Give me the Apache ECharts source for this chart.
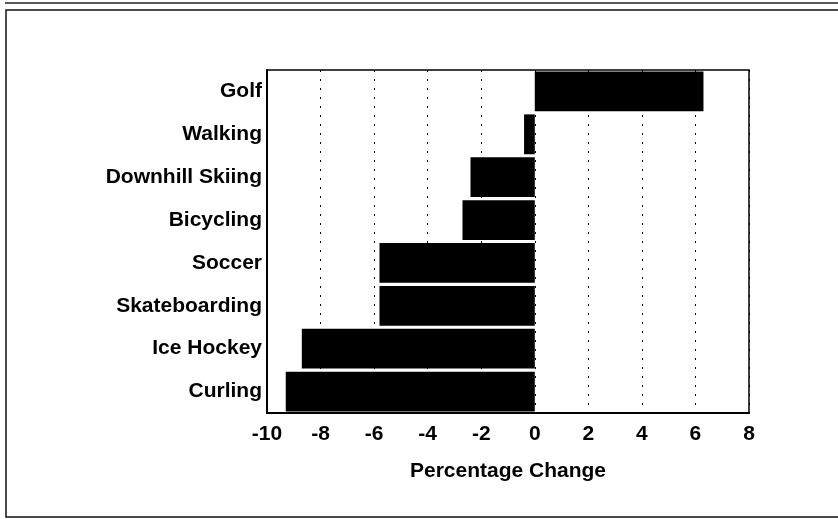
<!DOCTYPE html>
<html>
<head>
<meta charset="utf-8">
<script src="https://cdn.jsdelivr.net/npm/echarts@6/dist/echarts.min.js"></script>
<style>
  html, body { margin: 0; padding: 0; background: #fff; }
  #chart { width: 838px; height: 519px; }
</style>
</head>
<body>
<div id="chart"></div>
<script>
const sports = ["Golf", "Walking", "Downhill Skiing", "Bicycling", "Soccer", "Skateboarding", "Ice Hockey", "Curling"];
const pctChange = [6.3, -0.4, -2.4, -2.7, -5.8, -5.8, -8.7, -9.3];
const xTicks = [-10, -8, -6, -4, -2, 0, 2, 4, 6, 8];

const chart = echarts.init(document.getElementById("chart"));
const font = "Liberation Sans";

chart.setOption({
  animation: false,
  backgroundColor: "#fff",
  graphic: [
    { type: "line", shape: { x1: 5, y1: 3, x2: 838, y2: 3 }, style: { stroke: "#222", lineWidth: 1.5 } },
    { type: "rect", shape: { x: 6, y: 10, width: 840, height: 507 }, style: { fill: "none", stroke: "#111", lineWidth: 1.5 } }
  ],
  grid: {
    left: 267, right: 89, top: 70, bottom: 106,
    show: true, borderColor: "#000", borderWidth: 1.5
  },
  xAxis: {
    type: "value",
    min: xTicks[0],
    max: xTicks[xTicks.length - 1],
    interval: 2,
    name: "Percentage Change",
    nameLocation: "middle",
    nameGap: 48,
    nameTextStyle: { fontFamily: font, fontSize: 21, fontWeight: "bold", color: "#000" },
    axisLine: { show: true, lineStyle: { color: "#000", width: 2 } },
    axisTick: { show: false },
    axisLabel: { fontFamily: font, fontSize: 21, fontWeight: "bold", color: "#000", margin: 11 },
    splitLine: { show: true, lineStyle: { color: "#000", width: 1, type: [2, 7] } }
  },
  yAxis: {
    type: "category",
    data: sports,
    inverse: true,
    axisLine: { show: true, onZero: false, lineStyle: { color: "#000", width: 2 } },
    axisTick: { show: false },
    axisLabel: { fontFamily: font, fontSize: 21, fontWeight: "bold", color: "#000", margin: 5, padding: [6, 0, 0, 0] },
    splitLine: { show: false }
  },
  series: [{
    type: "bar",
    data: pctChange,
    barCategoryGap: "7%",
    itemStyle: { color: "#000" }
  }]
});
</script>
</body>
</html>
